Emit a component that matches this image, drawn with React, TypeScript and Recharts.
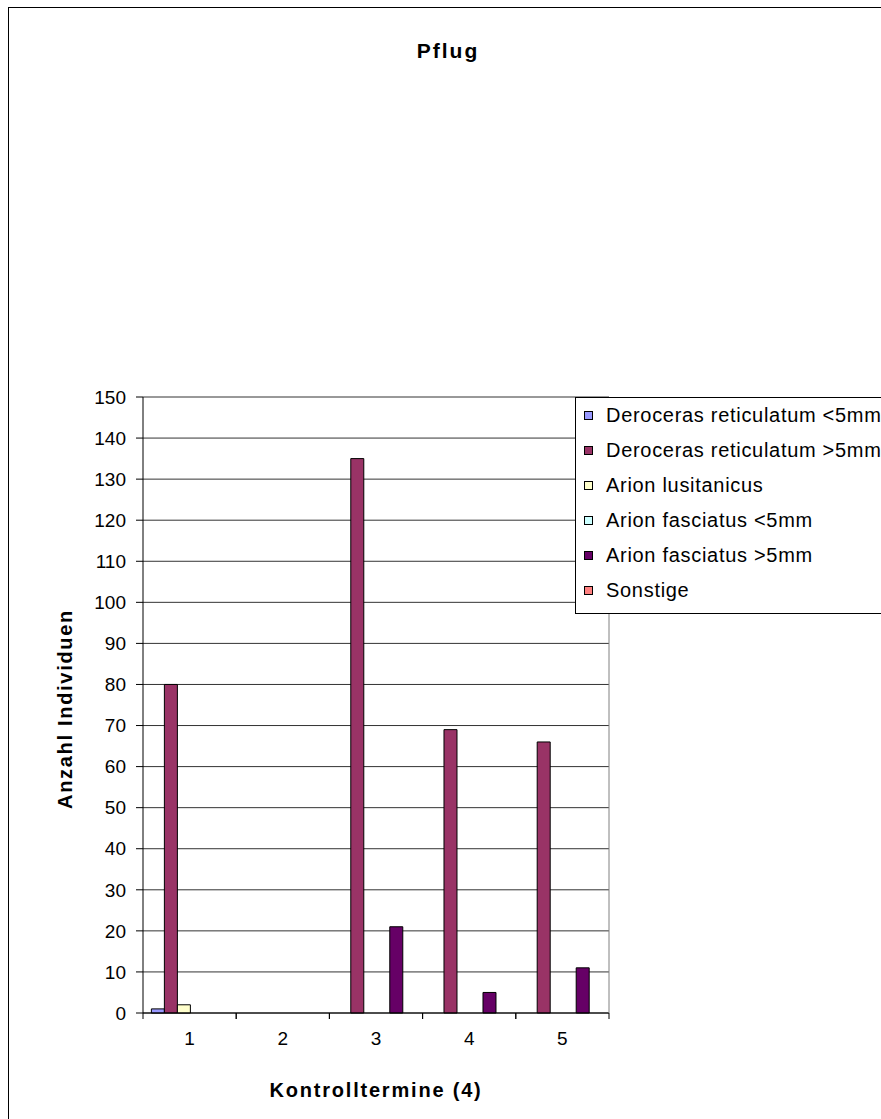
import React from 'react';
import { BarChart, Bar, XAxis, YAxis, CartesianGrid, Legend } from 'recharts';

// Kontrolltermine 1..5, Anzahl Individuen je Art
const categories = ['1', '2', '3', '4', '5'];
const derocerasSmall = [1, 0, 0, 0, 0];
const derocerasLarge = [80, 0, 135, 69, 66];
const arionLusitanicus = [2, 0, 0, 0, 0];
const arionFasciatusSmall = [0, 0, 0, 0, 0];
const arionFasciatusLarge = [0, 0, 21, 5, 11];
const sonstige = [0, 0, 0, 0, 0];

const yTicks = [0, 10, 20, 30, 40, 50, 60, 70, 80, 90, 100, 110, 120, 130, 140, 150];

const series = [
  { key: 'drSmall', name: 'Deroceras reticulatum <5mm', color: '#9999FF', values: derocerasSmall },
  { key: 'drLarge', name: 'Deroceras reticulatum >5mm', color: '#993366', values: derocerasLarge },
  { key: 'aLus', name: 'Arion lusitanicus', color: '#FFFFCC', values: arionLusitanicus },
  { key: 'afSmall', name: 'Arion fasciatus <5mm', color: '#CCFFFF', values: arionFasciatusSmall },
  { key: 'afLarge', name: 'Arion fasciatus >5mm', color: '#660066', values: arionFasciatusLarge },
  { key: 'sonst', name: 'Sonstige', color: '#FF8080', values: sonstige },
];

const data = categories.map((name, i) => {
  const row: Record<string, string | number> = { name };
  series.forEach(s => { row[s.key] = s.values[i]; });
  return row;
});

const FONT = "'Liberation Sans', Arial, sans-serif";
const TICK_MARGIN = 19;

// category labels plus Excel-style tick marks on the category borders
const CatTick = (props: any) => {
  const { x, y, payload } = props;
  const half = payload?.offset ?? 0;
  const axisY = y - TICK_MARGIN;
  return (
    <g>
      <line x1={x - half} x2={x - half} y1={axisY} y2={axisY + 6} stroke="#000" />
      <line x1={x + half} x2={x + half} y1={axisY} y2={axisY + 6} stroke="#000" />
      <text x={x} y={y} dy="0.71em" textAnchor="middle" fontSize={19} fontFamily={FONT} fill="#000">
        {payload.value}
      </text>
    </g>
  );
};

const XTitle = (props: any) => {
  const { x, y, width } = props.viewBox;
  return (
    <text x={x + width / 2} y={y + 84} textAnchor="middle" fontSize={20} fontWeight="bold"
      fontFamily={FONT} letterSpacing={1.8} fill="#000">
      Kontrolltermine (4)
    </text>
  );
};

const YTitle = (props: any) => {
  const { x, y, height } = props.viewBox;
  const cx = x + 29;
  const cy = y + height / 2 + 4;
  return (
    <text x={cx} y={cy} transform={`rotate(-90 ${cx} ${cy})`} textAnchor="middle" fontSize={20}
      fontWeight="bold" fontFamily={FONT} letterSpacing={1.7} fill="#000">
      Anzahl Individuen
    </text>
  );
};

// keep legend in series order (Recharts sorts by name otherwise)
const LegendBox = (props: any) => {
  const items = [...(props.payload || [])].sort(
    (a: any, b: any) => series.findIndex(s => s.name === a.value) - series.findIndex(s => s.name === b.value)
  );
  return (
    <div style={{ width: 330, height: 217, border: '1px solid #000', background: '#fff', boxSizing: 'border-box' }}>
      {items.map((entry: any) => (
        <div key={entry.value} style={{ height: 35, display: 'flex', alignItems: 'center' }}>
          <span style={{ display: 'inline-block', width: 7, height: 7, border: '1px solid #000', background: entry.color, marginLeft: 8 }} />
          <span style={{ marginLeft: 13, fontSize: 20, fontFamily: FONT, letterSpacing: 0.7, color: '#000', whiteSpace: 'nowrap' }}>
            {entry.value}
          </span>
        </div>
      ))}
    </div>
  );
};

export default function App() {
  return (
    <div style={{ position: 'relative', width: 881, height: 1119, overflow: 'hidden', background: '#fff' }}>
      <style>{'body{margin:0;overflow:hidden}'}</style>
      <div style={{ position: 'absolute', left: 8, top: 7, width: 1000, height: 1300, border: '1px solid #000' }} />
      <svg width={881} height={100} style={{ position: 'absolute', left: 0, top: 0 }}>
        <text x={448} y={58} textAnchor="middle" fontSize={21} fontWeight="bold" fontFamily={FONT} letterSpacing={2} fill="#000">
          Pflug
        </text>
      </svg>
      <div style={{ position: 'absolute', left: 0, top: 0 }}>
        <BarChart width={881} height={1119} data={data} barGap={0} barCategoryGap="9%"
          margin={{ top: 397, right: 271, bottom: 16, left: 43 }}>
          <CartesianGrid vertical={false} stroke="#333" />
          <XAxis dataKey="name" height={90} tickLine={false} tickSize={0} tickMargin={TICK_MARGIN}
            axisLine={{ stroke: '#000' }} tick={<CatTick />} label={<XTitle />} />
          <YAxis domain={[0, 150]} ticks={yTicks} interval={0} width={100} tickSize={7} tickMargin={10}
            axisLine={{ stroke: '#000' }} tickLine={{ stroke: '#000' }}
            tick={{ fill: '#000', fontSize: 19, fontFamily: FONT }} label={<YTitle />} />
          <YAxis yAxisId="r" orientation="right" domain={[0, 150]} width={1} tick={false} tickLine={false}
            axisLine={{ stroke: '#808080' }} />
          <Legend layout="horizontal" verticalAlign="middle" align="center"
            wrapperStyle={{ left: 575, top: 397, width: 330, height: 217 }} content={<LegendBox />} />
          {series.map(s => (
            <Bar key={s.key} dataKey={s.key} name={s.name} fill={s.color} stroke="#000" strokeWidth={1}
              isAnimationActive={false} />
          ))}
        </BarChart>
      </div>
    </div>
  );
}
